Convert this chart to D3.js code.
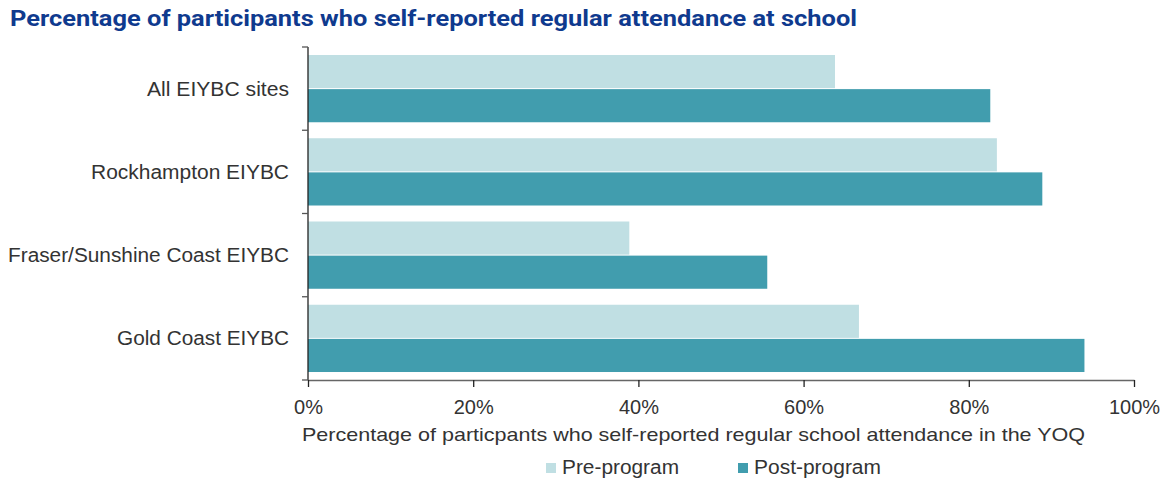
<!DOCTYPE html>
<html><head><meta charset="utf-8">
<script src="https://cdn.jsdelivr.net/npm/d3@7"></script>
<style>
body{margin:0;background:#fff;}
text{font-family:"Liberation Sans",Arial,sans-serif;}
</style></head>
<body><svg id="c" width="1169" height="482"></svg>
<script>
const categories = ["All EIYBC sites","Rockhampton EIYBC","Fraser/Sunshine Coast EIYBC","Gold Coast EIYBC"];
const seriesNames = ["Pre-program","Post-program"];
const preValues = [63.8, 83.4, 38.9, 66.7];
const postValues = [82.6, 88.9, 55.6, 94.0];
const tickValues = [0,20,40,60,80,100];
const colors = ["#c0dfe3","#419dae"];

const svg = d3.select("#c");
const m = {left:308, right:1134, top:47, bottom:380};
const x = d3.scaleLinear().domain([0,100]).range([m.left,m.right]);
const y = d3.scaleBand().domain(categories).range([m.top,m.bottom]).paddingInner(0.18).paddingOuter(0.09);
const y0 = d3.scaleBand().domain(seriesNames).range([0,y.bandwidth()]).padding(0);

// fit a text element's width to a target (reference font is wider than available fonts)
function fit(sel, w){ sel.attr("textLength",w).attr("lengthAdjust","spacingAndGlyphs"); return sel; }

fit(svg.append("text").attr("x",10).attr("y",26).attr("fill","#0f3a8e")
  .attr("font-size",21.5).attr("font-weight","bold")
  .style("font-family","Roboto, 'Liberation Sans', sans-serif")
  .text("Percentage of participants who self-reported regular attendance at school"), 847);

const data = categories.map((c,i)=>({cat:c, vals:[preValues[i], postValues[i]]}));
const g = svg.append("g");
data.forEach(d=>{
  d.vals.forEach((v,j)=>{
    g.append("rect").attr("x",x(0)).attr("y",y(d.cat)+y0(seriesNames[j])+0.5)
      .attr("width",x(v)-x(0)).attr("height",y0.bandwidth()-1)
      .attr("fill",colors[j]);
  });
});

// y axis
const yAxis = svg.append("g").attr("transform",`translate(${m.left},0)`);
yAxis.append("line").attr("x1",0).attr("x2",0).attr("y1",m.top).attr("y2",m.bottom).attr("stroke","#222").attr("stroke-width",1.3);
const bounds = d3.range(categories.length+1).map(i=>m.top + i*(m.bottom-m.top)/categories.length);
bounds.forEach(b=>yAxis.append("line").attr("x1",-6).attr("x2",0).attr("y1",b).attr("y2",b).attr("stroke","#555").attr("stroke-width",1.3));
const labelWidths = [142,198,281,172];
categories.forEach((c,i)=>{
  fit(svg.append("text").attr("x",289).attr("y",(bounds[i]+bounds[i+1])/2+7).attr("text-anchor","end")
    .attr("font-size",19.5).attr("fill","#333").text(c), labelWidths[i]);
});

// x axis
const xAxis = d3.axisBottom(x).tickValues(tickValues).tickFormat(d=>d+"%").tickSize(7).tickSizeOuter(0);
const xg = svg.append("g").attr("transform",`translate(0,${m.bottom})`).call(xAxis);
xg.select(".domain").attr("stroke","#666").attr("stroke-width",1.5);
xg.selectAll(".tick line").attr("stroke","#222").attr("stroke-width",1.3);
xg.selectAll(".tick text").attr("font-size",20).attr("fill","#333").attr("y",0).attr("dy",0)
  .attr("transform","translate(0,34)").style("font-family","'Liberation Sans',Arial,sans-serif");

fit(svg.append("text").attr("x",693.5).attr("y",441).attr("text-anchor","middle")
  .attr("font-size",19).attr("fill","#333")
  .text("Percentage of particpants who self-reported regular school attendance in the YOQ"), 783);

// legend
const legX = [546, 738];
const legW = [117, 127];
seriesNames.forEach((s,j)=>{
  svg.append("rect").attr("x",legX[j]).attr("y",463).attr("width",10).attr("height",10).attr("fill",colors[j]);
  fit(svg.append("text").attr("x",legX[j]+16).attr("y",474).attr("font-size",20).attr("fill","#333").text(s), legW[j]);
});
</script></body></html>
